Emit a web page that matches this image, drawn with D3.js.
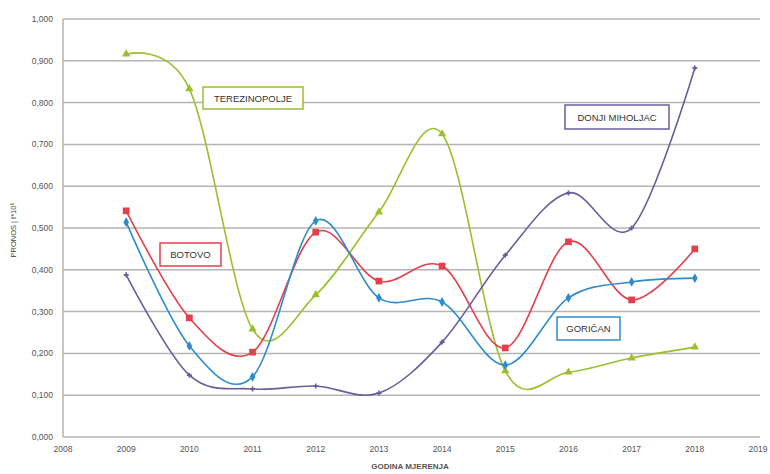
<!DOCTYPE html>
<html>
<head>
<meta charset="utf-8">
<script src="https://cdn.jsdelivr.net/npm/d3@7"></script>
<style>
  body { margin: 0; background: #fff; }
  text { font-family: "Liberation Sans", Arial, sans-serif; }
</style>
</head>
<body>
<div id="chart"></div>
<script>
const years = [2009, 2010, 2011, 2012, 2013, 2014, 2015, 2016, 2017, 2018];
const terezinoPolje = [0.916, 0.833, 0.258, 0.340, 0.538, 0.725, 0.158, 0.155, 0.189, 0.215];
const botovo = [0.541, 0.285, 0.203, 0.490, 0.373, 0.409, 0.213, 0.467, 0.328, 0.450];
const gorican = [0.514, 0.218, 0.144, 0.517, 0.333, 0.323, 0.172, 0.333, 0.371, 0.380];
const donjiMiholjac = [0.388, 0.148, 0.115, 0.122, 0.105, 0.227, 0.435, 0.584, 0.500, 0.883];
const yTicks = [0, 0.1, 0.2, 0.3, 0.4, 0.5, 0.6, 0.7, 0.8, 0.9, 1.0];
const xTicks = [2008, 2009, 2010, 2011, 2012, 2013, 2014, 2015, 2016, 2017, 2018, 2019];

const W = 770, H = 474;
const margin = { top: 19, right: 12, bottom: 37, left: 63 };

const svg = d3.select("#chart").append("svg")
  .attr("width", W).attr("height", H);

const x = d3.scaleLinear().domain([2008, 2019]).range([margin.left, W - margin.right]);
const y = d3.scaleLinear().domain([0, 1]).range([H - margin.bottom, margin.top]);

// grid
svg.append("g")
  .selectAll("line")
  .data(yTicks)
  .join("line")
  .attr("x1", margin.left)
  .attr("x2", W - margin.right + 2)
  .attr("y1", (d) => y(d))
  .attr("y2", (d) => y(d))
  .attr("stroke", "#b4b4b4")
  .attr("stroke-width", 1.5);

svg.append("line")
  .attr("x1", margin.left).attr("x2", margin.left)
  .attr("y1", y(1)).attr("y2", y(0))
  .attr("stroke", "#b4b4b4").attr("stroke-width", 1.5);

// y tick labels
svg.append("g")
  .selectAll("text")
  .data(yTicks)
  .join("text")
  .attr("x", margin.left - 10)
  .attr("y", (d) => y(d) + 3)
  .attr("text-anchor", "end")
  .attr("font-size", 8.5)
  .attr("fill", "#555")
  .text((d) => d3.format(".3f")(d).replace(".", ","));

// x tick labels
svg.append("g")
  .selectAll("text")
  .data(xTicks)
  .join("text")
  .attr("x", (d) => x(d))
  .attr("y", y(0) + 15)
  .attr("text-anchor", "middle")
  .attr("font-size", 8.5)
  .attr("fill", "#555")
  .text((d) => d);

svg.append("text")
  .attr("x", 410).attr("y", H - 5)
  .attr("text-anchor", "middle")
  .attr("font-size", 8)
  .attr("font-weight", "bold")
  .attr("fill", "#555")
  .text("GODINA MJERENJA");

svg.append("text")
  .attr("transform", "translate(16," + 230 + ") rotate(-90)")
  .attr("text-anchor", "middle")
  .attr("font-size", 7.5)
  .attr("fill", "#444")
  .text("PRONOS | t*10⁶");

const series = [
  { name: "TEREZINOPOLJE", values: terezinoPolje, color: "#9cbf2e", marker: "triangle", box: [203, 87, 100, 22] },
  { name: "BOTOVO", values: botovo, color: "#e2404c", marker: "square", box: [160, 243, 61, 23] },
  { name: "GORIČAN", values: gorican, color: "#2e8ccc", marker: "diamond", box: [557, 317, 63, 23] },
  { name: "DONJI MIHOLJAC", values: donjiMiholjac, color: "#6b5c9c", marker: "cross", box: [565, 105, 104, 24] }
];

const line = d3.line()
  .x((d) => x(d[0]))
  .y((d) => y(d[1]))
  .curve(d3.curveCardinal.tension(0));

series.forEach((s) => {
  const pts = years.map((yr, i) => [yr, s.values[i]]);
  svg.append("path")
    .datum(pts)
    .attr("d", line)
    .attr("fill", "none")
    .attr("stroke", s.color)
    .attr("stroke-width", 1.6);

  const symType = {
    triangle: d3.symbolTriangle,
    square: d3.symbolSquare,
    diamond: d3.symbolDiamond,
    cross: d3.symbolCross
  }[s.marker];
  const size = { triangle: 30, square: 45, diamond: 28, cross: 14 }[s.marker];
  svg.append("g")
    .selectAll("path")
    .data(pts)
    .join("path")
    .attr("transform", (d) => "translate(" + x(d[0]) + "," + y(d[1]) + ")")
    .attr("d", d3.symbol().type(symType).size(size))
    .attr("fill", s.color);

  const b = s.box;
  svg.append("rect")
    .attr("x", b[0]).attr("y", b[1])
    .attr("width", b[2]).attr("height", b[3])
    .attr("fill", "#fff")
    .attr("stroke", s.color)
    .attr("stroke-width", 1.5);
  svg.append("text")
    .attr("x", b[0] + b[2] / 2)
    .attr("y", b[1] + b[3] / 2 + 3.5)
    .attr("text-anchor", "middle")
    .attr("font-size", 9.5)
    .attr("fill", "#333")
    .text(s.name);
});
</script>
</body>
</html>
